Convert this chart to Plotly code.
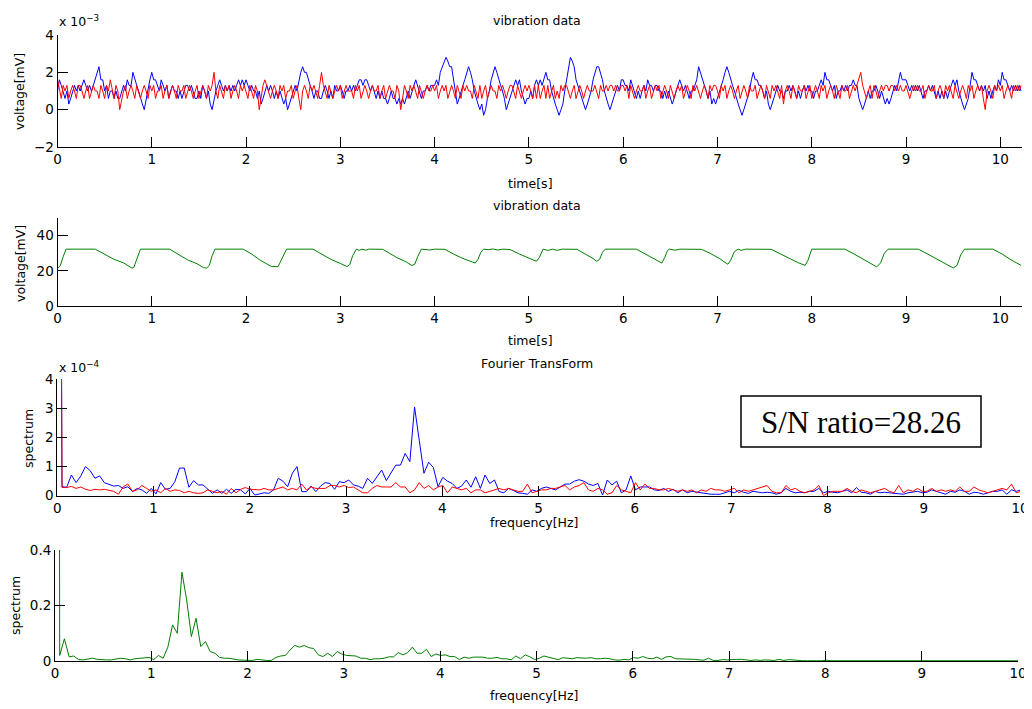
import plotly.graph_objects as go

# ---------------- data ----------------
# panel 1: vibration noise (x 1e-3 mV), sampled every 0.02 s
t_step = 0.02
noise_blue = [
    1.0, 1.6, 1.3, 1.0, 0.6, 1.0, 0.3, 0.6, 1.0, 1.3, 1.0, 1.3, 1.0, 1.3, 1.6, 1.3, 1.0, 1.3, 1.0, 1.3, 1.6, 2.0, 2.3, 1.6, 1.6,
    1.0, 1.3, 0.6, 1.0, 1.0, 0.6, 1.0, 0.6, 0.6, 1.0, 1.3, 1.0, 1.6, 1.3, 1.3, 2.0, 1.6, 1.3, 1.0, 0.6, 0.3, 0.0, 0.6, 1.0, 1.6,
    2.0, 1.6, 1.6, 1.3, 1.0, 1.6, 1.3, 1.0, 1.3, 0.6, 1.0, 1.3, 1.0, 1.0, 0.6, 1.0, 0.6, 1.0, 1.3, 1.3, 1.0, 1.3, 1.0, 0.6, 0.6,
    1.0, 0.6, 1.3, 1.0, 0.6, 1.0, 0.3, 0.0, 0.6, 1.0, 1.3, 1.6, 1.3, 1.0, 1.3, 1.0, 1.3, 1.0, 1.3, 1.0, 1.3, 1.6, 1.3, 1.6, 1.3,
    1.6, 1.3, 1.0, 1.3, 1.0, 1.0, 0.6, 1.0, 0.3, 0.6, 1.0, 1.3, 1.0, 1.3, 1.0, 0.6, 1.0, 0.6, 1.0, 0.6, 0.3, 0.6, 0.0, 0.3, 0.6,
    1.0, 1.3, 1.0, 1.6, 2.0, 2.3, 2.0, 2.0, 1.6, 1.3, 1.0, 0.6, 1.0, 1.0, 0.6, 0.6, 1.0, 1.3, 1.0, 0.6, 1.0, 0.6, 1.3, 1.0, 1.0,
    1.3, 1.0, 0.6, 1.0, 1.0, 1.3, 1.0, 1.3, 1.0, 1.3, 1.6, 1.6, 1.3, 1.6, 1.6, 1.3, 1.0, 1.3, 1.0, 0.6, 1.0, 0.6, 1.0, 0.6, 0.6,
    0.3, 0.6, 1.0, 0.6, 0.6, 0.3, 0.6, 0.3, 0.6, 0.3, 0.6, 1.0, 0.6, 1.0, 1.3, 1.6, 1.3, 1.0, 0.6, 1.0, 1.0, 1.3, 1.0, 1.3, 1.3,
    1.3, 1.6, 1.3, 2.0, 2.3, 2.6, 2.8, 2.6, 2.3, 2.3, 1.6, 1.0, 0.3, 0.6, 1.0, 1.3, 1.6, 2.0, 2.3, 2.0, 1.6, 1.0, 0.6, 0.3, 0.0,
    0.3, -0.3, 0.0, 0.6, 1.0, 1.6, 2.0, 2.3, 2.0, 1.6, 1.3, 1.0, 0.6, 0.0, 0.3, 0.6, 1.0, 1.3, 1.6, 1.3, 1.6, 1.0, 0.6, 0.3, 0.6,
    0.6, 1.0, 0.6, 1.3, 1.6, 1.3, 1.6, 1.3, 1.6, 2.0, 1.6, 1.6, 1.0, 0.6, 0.3, 0.0, -0.3, 0.0, 0.3, 1.0, 1.6, 2.3, 2.8, 2.6, 2.3,
    1.6, 1.3, 1.0, 0.6, 0.3, 0.0, 0.3, 0.6, 1.0, 1.6, 2.0, 2.3, 2.3, 2.0, 1.6, 1.0, 0.6, 0.3, 0.0, 0.3, 0.6, 1.0, 1.3, 1.0, 1.6,
    1.6, 1.3, 1.3, 1.0, 1.6, 1.3, 1.0, 0.6, 1.0, 0.6, 1.0, 1.3, 1.0, 1.6, 1.3, 1.3, 1.0, 1.3, 1.3, 1.0, 1.0, 0.6, 1.0, 0.6, 1.0,
    0.6, 0.3, 0.6, 1.0, 1.3, 1.6, 1.3, 1.0, 1.3, 1.0, 0.6, 1.0, 1.0, 1.3, 1.6, 2.3, 2.0, 1.6, 1.3, 1.0, 0.6, 1.0, 0.3, 0.6, 0.3,
    0.6, 1.0, 1.3, 1.6, 2.0, 2.3, 2.0, 1.6, 1.3, 1.0, 0.6, 0.3, 0.0, -0.3, 0.0, 0.3, 0.6, 1.0, 1.6, 2.0, 1.6, 1.6, 1.3, 1.3, 1.0,
    0.6, 1.0, 0.3, 0.0, 0.3, 0.6, 1.0, 1.3, 1.0, 1.0, 0.6, 1.0, 1.0, 1.3, 1.0, 1.3, 1.0, 0.6, 1.0, 0.6, 1.0, 1.3, 1.0, 1.3, 1.0,
    1.0, 0.6, 1.0, 1.0, 1.3, 1.6, 1.3, 2.0, 1.6, 1.6, 1.3, 1.0, 1.3, 0.6, 1.0, 1.0, 1.3, 1.0, 1.3, 1.0, 1.3, 1.3, 1.6, 1.3, 1.3,
    0.6, 0.3, 0.0, 0.3, 0.6, 1.0, 0.6, 1.0, 1.0, 1.3, 1.0, 0.6, 1.0, 0.6, 0.3, 0.6, 0.3, 0.6, 1.0, 1.3, 1.0, 1.6, 2.0, 1.6, 1.6,
    1.6, 1.3, 1.0, 1.3, 1.0, 1.3, 1.0, 1.3, 1.0, 0.6, 1.0, 1.0, 1.3, 1.0, 1.3, 1.0, 0.6, 1.0, 0.6, 1.0, 0.6, 1.0, 0.6, 1.0, 1.3,
    1.6, 1.3, 1.6, 1.0, 0.6, 0.3, 0.0, 0.3, 0.6, 1.3, 2.0, 1.6, 1.6, 1.3, 1.0, 1.3, 1.0, 1.3, 0.6, 1.0, 0.6, 1.0, 1.3, 1.0, 1.6,
    1.3, 2.0, 1.6, 1.6, 1.3, 1.0, 1.3, 1.0, 1.3, 1.0, 1.3, 1.0,
]
noise_red = [
    1.6, 1.0, 0.6, 1.3, 1.0, 1.3, 0.6, 1.0, 1.3, 1.0, 0.6, 1.3, 1.3, 1.0, 0.6, 1.0, 1.3, 0.6, 1.0, 1.3, 1.0, 1.0, 0.6, 1.3, 1.0,
    0.6, 1.3, 1.0, 1.6, 1.0, 0.6, 1.3, 1.0, 0.0, 0.6, 1.0, 1.3, 0.6, 1.0, 1.3, 1.0, 0.6, 1.3, 1.0, 0.6, 1.0, 1.3, 1.0, 0.6, 1.3,
    1.0, 1.3, 0.6, 1.0, 1.0, 1.3, 0.6, 1.0, 1.3, 0.6, 1.0, 1.3, 1.0, 0.6, 1.3, 1.0, 1.0, 1.3, 0.6, 1.0, 1.3, 1.0, 0.6, 1.0, 1.3,
    0.6, 1.0, 1.3, 1.0, 0.6, 1.3, 1.0, 1.3, 2.0, 1.0, 0.6, 1.3, 1.0, 0.6, 1.3, 1.0, 1.3, 0.6, 1.0, 1.3, 1.0, 0.6, 1.3, 1.0, 1.3,
    1.0, 0.6, 1.3, 1.0, 0.6, 1.3, 1.0, 0.0, 0.6, 1.3, 1.6, 1.3, 1.0, 0.6, 1.0, 1.3, 1.0, 0.6, 1.3, 1.0, 1.3, 0.6, 1.0, 1.0, 1.3,
    0.6, 1.0, 1.3, 0.6, 0.0, 1.0, 1.3, 1.0, 0.6, 1.3, 1.0, 1.3, 1.0, 0.6, 1.3, 2.0, 1.3, 1.0, 0.6, 1.3, 1.0, 0.6, 1.0, 1.3, 1.0,
    1.3, 0.6, 1.0, 1.3, 1.0, 1.0, 1.0, 0.6, 1.3, 1.0, 1.3, 0.6, 1.0, 1.3, 1.0, 0.6, 1.0, 1.3, 1.0, 1.0, 1.3, 0.6, 1.0, 1.3, 0.6,
    1.0, 1.3, 1.0, 1.0, 0.6, 1.3, 1.0, 0.0, 0.6, 1.3, 1.0, 0.6, 1.3, 1.0, 1.3, 1.0, 0.6, 1.3, 1.0, 0.6, 1.0, 1.3, 1.0, 1.0, 1.3,
    1.0, 1.3, 0.6, 1.0, 1.3, 1.0, 1.3, 0.6, 1.0, 1.3, 1.0, 0.6, 1.3, 1.0, 0.6, 1.3, 1.0, 1.3, 1.0, 1.0, 0.6, 1.3, 1.0, 0.6, 1.3,
    0.6, 1.0, 1.3, 0.6, 1.0, 1.3, 1.0, 1.0, 0.6, 1.3, 1.0, 1.3, 1.0, 0.6, 1.0, 1.3, 1.3, 1.0, 0.6, 1.3, 1.0, 0.6, 1.0, 1.3, 1.0,
    1.3, 1.0, 0.6, 1.3, 0.6, 1.3, 0.6, 1.0, 1.3, 0.6, 1.3, 0.6, 1.0, 1.3, 0.6, 1.0, 0.6, 1.3, 1.0, 1.3, 1.3, 1.0, 0.6, 1.0, 1.3,
    0.6, 1.0, 1.3, 1.0, 0.6, 1.0, 1.3, 1.0, 1.0, 1.0, 1.3, 1.0, 0.6, 1.3, 1.0, 1.0, 1.3, 1.0, 1.3, 1.3, 1.0, 1.3, 1.0, 1.0, 1.3,
    1.3, 1.0, 1.3, 0.6, 1.3, 1.0, 0.6, 1.0, 1.3, 1.0, 1.0, 1.3, 0.6, 1.0, 1.3, 0.6, 1.0, 1.3, 1.0, 1.3, 0.6, 1.0, 1.3, 1.0, 0.6,
    1.3, 1.0, 0.6, 1.0, 1.3, 1.0, 1.3, 0.6, 1.0, 1.3, 1.0, 0.6, 1.3, 1.0, 1.3, 1.0, 0.6, 1.0, 1.3, 1.0, 0.6, 1.3, 1.0, 1.3, 1.3,
    1.0, 0.6, 1.3, 1.0, 1.3, 0.6, 1.0, 1.3, 1.0, 0.6, 1.0, 1.3, 0.6, 1.0, 1.3, 1.0, 0.6, 1.3, 1.0, 1.0, 1.3, 0.6, 1.0, 1.3, 1.0,
    0.6, 1.3, 1.0, 0.6, 1.3, 1.0, 1.3, 1.0, 0.6, 1.3, 0.3, 1.0, 1.3, 1.0, 0.6, 1.3, 1.0, 0.6, 1.3, 1.0, 1.0, 1.3, 0.6, 1.0, 1.3,
    0.6, 1.0, 1.3, 1.0, 0.6, 1.3, 1.0, 1.3, 0.6, 1.0, 1.3, 1.0, 0.6, 1.3, 1.0, 0.6, 1.3, 1.0, 1.0, 1.3, 0.6, 1.0, 1.3, 1.0, 1.3,
    1.6, 2.0, 1.3, 1.0, 0.6, 1.0, 1.3, 0.6, 1.3, 1.0, 0.6, 1.0, 1.3, 1.0, 1.3, 1.3, 1.0, 1.3, 1.3, 1.0, 1.3, 1.0, 1.3, 1.0, 1.0,
    1.3, 1.0, 0.6, 1.0, 1.3, 1.0, 1.3, 1.0, 1.0, 1.3, 0.6, 1.0, 1.3, 1.0, 1.0, 1.3, 0.6, 1.0, 1.3, 1.0, 0.6, 1.3, 1.0, 1.3, 1.0,
    0.6, 1.3, 1.0, 0.6, 1.0, 1.3, 1.0, 0.6, 1.3, 1.0, 1.3, 0.6, 1.0, 1.3, 1.0, 1.3, 0.6, 0.0, 1.0, 1.3, 1.0, 0.6, 1.3, 1.0, 1.3,
    1.0, 1.3, 0.6, 1.0, 1.3, 1.0, 0.6, 1.3, 1.0, 1.3, 1.0, 1.3,
]

# panel 2: vibration signal (mV), key points
sig_t = [
    0.00, 0.03, 0.06, 0.09, 0.40, 0.50, 0.60, 0.70, 0.76, 0.79, 0.81, 0.84, 0.88,
    1.19, 1.28, 1.38, 1.48, 1.55, 1.58, 1.61, 1.64, 1.67,
    1.97, 2.06, 2.15, 2.24, 2.27, 2.34, 2.38, 2.43,
    2.71, 2.80, 2.90, 3.00, 3.07, 3.10, 3.13, 3.17, 3.20, 3.23, 3.27, 3.30,
    3.45, 3.52, 3.60, 3.70, 3.76, 3.79, 3.82, 3.86, 3.95, 4.00,
    4.11, 4.20, 4.30, 4.40, 4.43, 4.46, 4.49, 4.52, 4.57, 4.62, 4.67, 4.72,
    4.80, 4.90, 5.00, 5.08, 5.11, 5.15, 5.20, 5.25, 5.30, 5.35,
    5.51, 5.60, 5.68, 5.72, 5.75, 5.78, 5.81,
    6.14, 6.22, 6.32, 6.41, 6.44, 6.47, 6.49, 6.55, 6.60,
    6.83, 6.92, 7.02, 7.11, 7.14, 7.18, 7.22, 7.25, 7.30,
    7.57, 7.66, 7.76, 7.86, 7.93, 7.96, 8.00,
    8.35, 8.45, 8.55, 8.65, 8.69, 8.73, 8.77, 8.81,
    9.13, 9.23, 9.33, 9.43, 9.50, 9.54, 9.58, 9.62,
    9.92, 10.02, 10.12, 10.22,
]
sig_v = [
    21.2, 23.0, 28.0, 32.3, 32.3, 29.5, 26.5, 24.5, 22.5, 21.5, 22.0, 27.0, 32.3,
    32.3, 29.5, 26.2, 24.0, 21.8, 21.5, 23.0, 28.5, 32.3,
    32.3, 29.5, 26.0, 23.5, 22.4, 22.4, 27.0, 32.3,
    32.3, 29.5, 26.5, 24.2, 22.4, 23.5, 28.5, 32.3, 31.6, 32.3, 31.7, 32.3,
    32.2, 30.0, 27.5, 25.0, 23.0, 23.8, 28.0, 32.3, 31.8, 32.3,
    32.2, 29.5, 27.0, 25.0, 24.4, 26.5, 30.5, 32.3, 32.0, 32.4, 31.8, 32.3,
    32.1, 29.5, 27.0, 25.4, 27.5, 32.3, 31.6, 32.3, 31.6, 32.3,
    32.2, 29.5, 27.0, 25.4, 26.5, 30.5, 32.3,
    32.3, 30.0, 27.0, 24.4, 27.5, 31.5, 32.3, 31.7, 32.3,
    32.2, 30.0, 27.0, 23.7, 26.0, 31.0, 32.3, 31.6, 32.3,
    32.2, 29.8, 27.0, 24.5, 23.1, 26.0, 32.3,
    32.3, 29.5, 26.5, 23.5, 22.2, 24.5, 30.0, 32.3,
    32.3, 29.5, 26.5, 23.5, 21.6, 23.0, 29.0, 32.3,
    32.3, 29.5, 26.0, 23.1,
]

# panel 3/4: spectra, frequency resolution 100/2048 Hz
freq_step = 100 / 2048
spec_blue = [  # x 1e-4
    40, 0.31, 0.29, 0.71, 0.45, 0.68, 1.0, 0.86, 0.6, 0.68, 0.45, 0.4, 0.33, 0.35, 0.25, 0.31, 0.14, 0.25, 0.2, 0.08,
    0.25, 0.06, 0.45, 0.22, 0.25, 0.48, 0.95, 0.95, 0.29, 0.52, 0.37, 0.37, 0.22, 0.08, 0.2, 0.08, 0.22, 0.08, 0.22, 0.2,
    0.06, 0.25, 0.02, 0.06, 0.1, 0.08, 0.2, 0.6, 0.5, 0.31, 0.77, 1.0, 0.14, 0.14, 0.33, 0.14, 0.33, 0.45, 0.42, 0.22,
    0.48, 0.45, 0.54, 0.37, 0.33, 0.25, 0.6, 0.42, 0.63, 0.88, 0.52, 0.79, 1.05, 1.05, 1.45, 1.17, 3.05, 1.9, 0.77, 1.15,
    0.97, 0.31, 0.63, 0.5, 0.42, 0.25, 0.33, 0.54, 0.29, 0.65, 0.25, 0.71, 0.42, 0.54, 0.14, 0.1, 0.25, 0.18, 0.1, 0.08,
    0.05, 0.2, 0.15, 0.25, 0.3, 0.25, 0.2, 0.3, 0.4, 0.4, 0.5, 0.55, 0.5, 0.4, 0.35, 0.42, 0.02, 0.54, 0.37, 0.5,
    0.1, 0.2, 0.68, 0.2, 0.3, 0.3, 0.3, 0.2, 0.18, 0.25, 0.15, 0.22, 0.1, 0.2, 0.1, 0.15, 0.12, 0.1, 0.08, 0.05,
    0.05, 0.05, 0.1, 0.15, 0.1, 0.18, 0.12, 0.08, 0.15, 0.12, 0.1, 0.12, 0.1, 0.05, 0.1, 0.25, 0.15, 0.1, 0.12, 0.1,
    0.15, 0.15, 0.25, 0.1, 0.15, 0.12, 0.1, 0.15, 0.2, 0.1, 0.28, 0.12, 0.1, 0.05, 0.15, 0.1, 0.12, 0.1, 0.08, 0.05,
    0.05, 0.1, 0.12, 0.15, 0.1, 0.12, 0.2, 0.15, 0.1, 0.05, 0.15, 0.12, 0.2, 0.15, 0.05, 0.12, 0.1, 0.05, 0.1, 0.15,
    0.15, 0.2, 0.05, 0.2, 0.15, 0.2,
]
spec_red = [  # x 1e-4
    40, 0.28, 0.28, 0.32, 0.25, 0.3, 0.22, 0.18, 0.22, 0.2, 0.22, 0.18, 0.15, 0.05, 0.3, 0.4, 0.15, 0.2, 0.35, 0.25,
    0.15, 0.2, 0.1, 0.25, 0.15, 0.2, 0.18, 0.1, 0.15, 0.1, 0.08, 0.1, 0.2, 0.15, 0.1, 0.15, 0.05, 0.25, 0.1, 0.22,
    0.28, 0.22, 0.2, 0.2, 0.25, 0.2, 0.2, 0.25, 0.3, 0.2, 0.25, 0.2, 0.4, 0.2, 0.3, 0.25, 0.25, 0.25, 0.35, 0.35,
    0.3, 0.35, 0.28, 0.3, 0.2, 0.1, 0.1, 0.25, 0.35, 0.3, 0.3, 0.3, 0.45, 0.3, 0.3, 0.1, 0.2, 0.45, 0.25, 0.35,
    0.2, 0.3, 0.35, 0.1, 0.3, 0.25, 0.2, 0.25, 0.1, 0.2, 0.2, 0.1, 0.15, 0.2, 0.25, 0.2, 0.25, 0.2, 0.15, 0.15,
    0.4, 0.1, 0.15, 0.2, 0.2, 0.25, 0.25, 0.3, 0.35, 0.2, 0.3, 0.35, 0.45, 0.2, 0.15, 0.25, 0.2, 0.05, 0.1, 0.35,
    0.2, 0.15, 0.1, 0.45, 0.2, 0.4, 0.25, 0.25, 0.2, 0.2, 0.25, 0.2, 0.15, 0.2, 0.15, 0.2, 0.1, 0.2, 0.15, 0.25,
    0.2, 0.2, 0.15, 0.2, 0.25, 0.1, 0.2, 0.15, 0.2, 0.25, 0.3, 0.35, 0.15, 0.1, 0.1, 0.35, 0.2, 0.25, 0.15, 0.1,
    0.15, 0.2, 0.35, 0.0, 0.1, 0.15, 0.15, 0.15, 0.25, 0.15, 0.1, 0.2, 0.15, 0.1, 0.15, 0.2, 0.25, 0.15, 0.1, 0.35,
    0.1, 0.2, 0.15, 0.25, 0.15, 0.15, 0.25, 0.15, 0.2, 0.15, 0.2, 0.15, 0.3, 0.15, 0.15, 0.3, 0.2, 0.15, 0.1, 0.15,
    0.2, 0.25, 0.2, 0.4, 0.1, 0.15,
]
spec_green = [
    10, 0.02, 0.08, 0.015, 0.018, 0.005, 0.004, 0.008, 0.01, 0.006, 0.004, 0.004, 0.004, 0.006, 0.01, 0.008, 0.004, 0.008, 0.009, 0.01,
    0.013, 0.005, 0.02, 0.01, 0.05, 0.13, 0.1, 0.32, 0.22, 0.088, 0.154, 0.052, 0.07, 0.034, 0.028, 0.013, 0.01, 0.01, 0.006, 0.004,
    0.003, 0.002, 0.002, 0.006, 0.003, 0.002, 0.002, 0.013, 0.018, 0.02, 0.04, 0.056, 0.05, 0.056, 0.048, 0.045, 0.022, 0.016, 0.028, 0.016,
    0.034, 0.025, 0.02, 0.018, 0.018, 0.01, 0.01, 0.005, 0.008, 0.008, 0.01, 0.015, 0.015, 0.03, 0.022, 0.03, 0.05, 0.028, 0.028, 0.042,
    0.016, 0.025, 0.02, 0.022, 0.016, 0.016, 0.005, 0.014, 0.01, 0.014, 0.014, 0.014, 0.01, 0.01, 0.013, 0.008, 0.008, 0.004, 0.018, 0.008,
    0.022, 0.015, 0.005, 0.01, 0.018, 0.014, 0.01, 0.005, 0.012, 0.01, 0.008, 0.012, 0.01, 0.01, 0.012, 0.008, 0.008, 0.01, 0.008, 0.004,
    0.003, 0.006, 0.004, 0.012, 0.01, 0.016, 0.01, 0.008, 0.014, 0.006, 0.015, 0.016, 0.008, 0.008, 0.008, 0.006, 0.006, 0.004, 0.003, 0.01,
    0.002, 0.002, 0.005, 0.004, 0.006, 0.006, 0.006, 0.004, 0.002, 0.004, 0.002, 0.004, 0.004, 0.002, 0.006, 0.002, 0.005, 0.003, 0.002, 0.001,
    0.001, 0.002, 0.001, 0.001, 0.003, 0.001, 0.001, 0.001, 0.002, 0.001, 0.001, 0.002, 0.001, 0.001, 0.001, 0.003, 0.001, 0.001, 0.002, 0.001,
    0.001, 0.001, 0.001, 0.001, 0.001, 0.002, 0.001, 0.001, 0.001, 0.001, 0.001, 0.003, 0.001, 0.001, 0.001, 0.001, 0.001, 0.001, 0.001, 0.001,
    0.001, 0.001, 0.001, 0.001, 0.001, 0.001,
]

x_ticks = list(range(0, 11))
sn_text = "S/N ratio=28.26"

# ---------------- figure ----------------
# the page body has an 8 px margin, so the figure starts 8 px in from the window edge
PAGE_OFF = 8
W, H = 1032 - PAGE_OFF, 709 - PAGE_OFF
t_blue = [round(i * t_step, 2) for i in range(len(noise_blue))]
t_red = [round(i * t_step, 2) for i in range(len(noise_red))]
f_b = [k * freq_step for k in range(len(spec_blue))]
f_r = [k * freq_step for k in range(len(spec_red))]
f_g = [k * freq_step for k in range(len(spec_green))]

BLUE, RED, GREEN = "#0000FF", "#FF0000", "#008000"
FONT = "DejaVu Sans, Arial, sans-serif"

fig = go.Figure()
fig.add_trace(go.Scatter(x=t_blue, y=noise_blue, mode="lines", line=dict(color=BLUE, width=1), xaxis="x", yaxis="y"))
fig.add_trace(go.Scatter(x=t_red, y=noise_red, mode="lines", line=dict(color=RED, width=1), xaxis="x", yaxis="y"))
fig.add_trace(go.Scatter(x=sig_t, y=sig_v, mode="lines", line=dict(color=GREEN, width=1), xaxis="x2", yaxis="y2"))
fig.add_trace(go.Scatter(x=f_b, y=spec_blue, mode="lines", line=dict(color=BLUE, width=1), xaxis="x3", yaxis="y3"))
fig.add_trace(go.Scatter(x=f_r, y=spec_red, mode="lines", line=dict(color=RED, width=1), xaxis="x3", yaxis="y3"))
fig.add_trace(go.Scatter(x=f_g, y=spec_green, mode="lines", line=dict(color=GREEN, width=1), xaxis="x4", yaxis="y4"))


def px_x(x):
    return (x - PAGE_OFF) / W


def px_y(y):
    return 1 - (y - PAGE_OFF) / H


def xax(dom, rng, anchor):
    return dict(domain=dom, range=rng, anchor=anchor, showgrid=False, zeroline=False, automargin=False,
                showline=True, linecolor="black", linewidth=1, ticks="inside", ticklen=10,
                tickcolor="black", tickvals=x_ticks, ticktext=[str(v) for v in x_ticks],
                ticklabeloverflow="allow",
                tickfont=dict(family=FONT, size=13.5, color="black"), fixedrange=True)


def yax(dom, rng, anchor, tickvals, ticktext):
    return dict(domain=dom, range=rng, anchor=anchor, showgrid=False, zeroline=False, automargin=False,
                showline=True, linecolor="black", linewidth=1, ticks="inside", ticklen=10,
                tickcolor="black", tickvals=tickvals, ticktext=ticktext,
                ticklabeloverflow="allow",
                tickfont=dict(family=FONT, size=13.5, color="black"), fixedrange=True)


fig.update_layout(
    width=W, height=H, margin=dict(l=0, r=0, t=0, b=0, autoexpand=False),
    paper_bgcolor="white", plot_bgcolor="white", showlegend=False,
    xaxis=xax([px_x(57.5), px_x(1022)], [0, 10.23], "y"),
    yaxis=yax([px_y(147), px_y(35)], [-2, 4], "x", [-2, 0, 2, 4], ["\u22122", "0", "2", "4"]),
    xaxis2=xax([px_x(57.5), px_x(1022)], [0, 10.23], "y2"),
    yaxis2=yax([px_y(306), px_y(218)], [0, 50], "x2", [0, 20, 40], ["0", "20", "40"]),
    xaxis3=xax([px_x(57.3), px_x(1020)], [0, 10], "y3"),
    yaxis3=yax([px_y(495.7), px_y(379.3)], [0, 4], "x3", [0, 1, 2, 3, 4], ["0", "1", "2", "3", "4"]),
    xaxis4=xax([px_x(55), px_x(1018)], [0, 10], "y4"),
    yaxis4=yax([px_y(661), px_y(550)], [0, 0.4], "x4", [0, 0.2, 0.4], ["0", "0.2", "0.4"]),
)

anns = []


def label(text, x, y, size=12.5, angle=0, xanchor="center", family=FONT):
    anns.append(dict(text=text, x=px_x(x), y=px_y(y), xref="paper", yref="paper",
                     showarrow=False, xanchor=xanchor, yanchor="middle", textangle=angle,
                     font=dict(family=family, size=size, color="black")))


label("vibration data", 537, 20)
label("x 10<sup>\u22123</sup>", 57, 21, xanchor="left")
label("time[s]", 530, 183)
label("voltage[mV]", 20, 92, angle=-90)

label("vibration data", 537, 205)
label("time[s]", 530, 340)
label("voltage[mV]", 20, 264, angle=-90)

label("Fourier TransForm", 537, 363)
label("x 10<sup>\u22124</sup>", 57, 367, xanchor="left")
label("frequency[Hz]", 534, 522)
label("spectrum", 28, 439, angle=-90)

label("frequency[Hz]", 534, 695)
label("spectrum", 15, 606, angle=-90)

label(sn_text, 861, 422, size=31, family="Liberation Serif, Times New Roman, serif")

fig.update_layout(annotations=anns)
fig.add_shape(type="rect", xref="paper", yref="paper",
              x0=px_x(741), x1=px_x(981), y0=px_y(447), y1=px_y(396),
              line=dict(color="black", width=1.5), fillcolor="rgba(0,0,0,0)")

fig.write_html("out.html")
